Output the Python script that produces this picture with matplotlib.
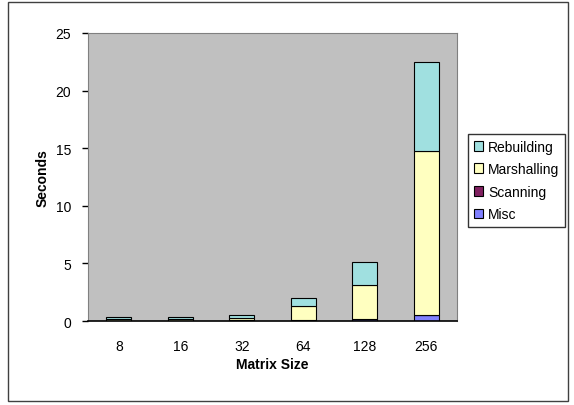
import matplotlib
matplotlib.use("Agg")
import matplotlib.pyplot as plt
import numpy as np
from matplotlib.patches import Rectangle

plt.rcParams['font.family'] = ['Liberation Sans', 'DejaVu Sans']

# Tiempos por fase para cada tamaño de matriz
tamanos = ['8', '16', '32', '64', '128', '256']
misc = [0.02, 0.02, 0.03, 0.05, 0.15, 0.50]
scanning = [0.02, 0.02, 0.02, 0.02, 0.03, 0.03]
marshalling = [0.11, 0.13, 0.20, 1.23, 2.97, 14.20]
rebuilding = [0.20, 0.20, 0.30, 0.67, 2.00, 7.72]

series = [
    ('Misc', misc, '#8080FF'),
    ('Scanning', scanning, '#802060'),
    ('Marshalling', marshalling, '#FFFFC0'),
    ('Rebuilding', rebuilding, '#A0E0E0'),
]

W, H = 574, 406
fig = plt.figure(figsize=(W / 100, H / 100), dpi=100)
fig.patch.set_facecolor('white')

# Marco exterior del gráfico
fig.add_artist(Rectangle((8 / W, 1 - 402 / H), 560 / W, 399 / H,
                         transform=fig.transFigure, fill=False,
                         edgecolor='#404040', linewidth=1.0))

ax = fig.add_axes([88 / W, 1 - 322 / H, 369 / W, 288 / H])
ax.set_facecolor('#C0C0C0')

x = np.arange(len(tamanos))
base = np.zeros(len(tamanos))
barras = {}
for nombre, valores, color in series:
    barras[nombre] = ax.bar(x, valores, bottom=base, width=0.41, color=color,
                            edgecolor='black', linewidth=0.8, label=nombre, zorder=3)
    base += np.array(valores)

ax.set_xlim(-0.5, len(tamanos) - 0.5)
ax.set_ylim(0, 25)
ax.set_yticks(range(0, 26, 5))
ax.set_xticks(x)
ax.set_xticklabels(tamanos)

for lado in ['top', 'right', 'left']:
    ax.spines[lado].set_color('#808080')
ax.spines['bottom'].set_color('black')
ax.spines['bottom'].set_linewidth(1.2)
ax.spines['bottom'].set_zorder(4)

ax.tick_params(axis='y', direction='out', length=4, width=1, color='black',
               pad=8, labelsize=10)
ax.tick_params(axis='x', length=0, pad=13, labelsize=10)

ax.set_xlabel('Matrix Size', fontsize=10, fontweight='bold', labelpad=3)
fig.text(43 / W, 1 - 178 / H, 'Seconds', rotation=90, fontsize=10,
         fontweight='bold', ha='center', va='center')

orden = ['Rebuilding', 'Marshalling', 'Scanning', 'Misc']
leg = ax.legend([barras[n] for n in orden], orden,
                loc='upper left', bbox_to_anchor=(468 / W, 1 - 135 / H),
                bbox_transform=fig.transFigure, fontsize=10,
                frameon=True, fancybox=False, edgecolor='black',
                handlelength=0.7, handleheight=0.7, handletextpad=0.35,
                labelspacing=0.62, borderpad=0.4, borderaxespad=0)
leg.get_frame().set_linewidth(1.0)

plt.savefig('out.png', dpi=100)
